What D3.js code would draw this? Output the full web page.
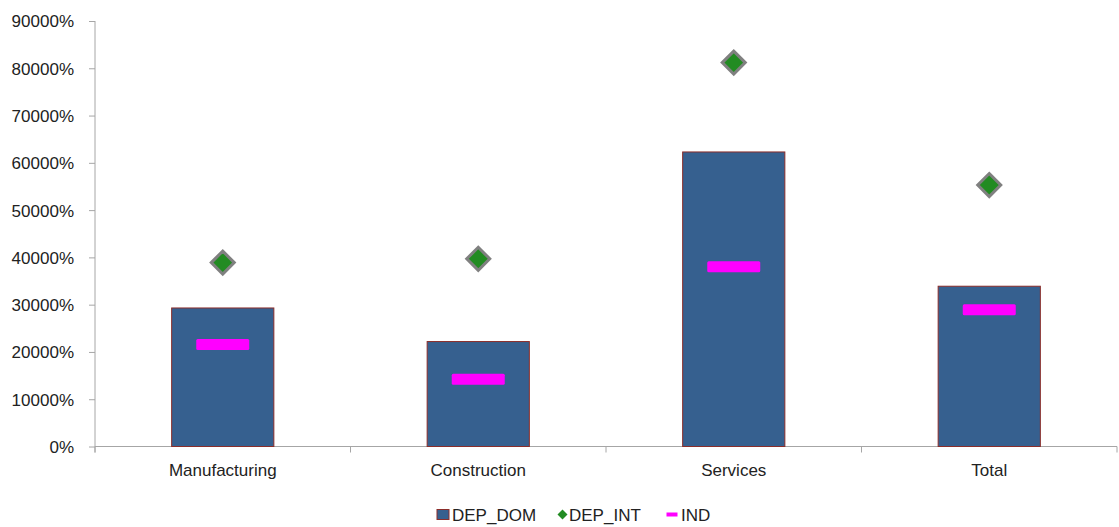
<!DOCTYPE html>
<html><head><meta charset="utf-8">
<script src="https://cdn.jsdelivr.net/npm/d3@7/dist/d3.min.js"></script>
<style>body{margin:0;background:#fff;} svg{display:block;font-family:"Liberation Sans",Arial,sans-serif;}</style>
</head><body>
<svg id="c" width="1119" height="527"></svg>
<script>
const categories = ["Manufacturing","Construction","Services","Total"];
const depDom = [293, 222, 623, 339];
const depInt = [389, 397, 812, 553];
const ind = [216, 142, 380, 289];
const yTicks = [0,100,200,300,400,500,600,700,800,900];

const svg = d3.select("#c");
const mLeft = 95, mRight = 1117, mTop = 21, mBottom = 446.5;
const x = d3.scaleBand().domain(categories).range([mLeft, mRight]).paddingInner(0).paddingOuter(0);
const y = d3.scaleLinear().domain([0, 900]).range([mBottom, mTop]);
const fmt = v => d3.format("d")(v*100) + "%";
const axisCol = "#a6a6a6";

// y axis
const ya = svg.append("g").attr("transform", `translate(${mLeft},0)`)
  .call(d3.axisLeft(y).tickValues(yTicks).tickFormat(fmt).tickSize(6).tickPadding(15));
ya.select(".domain").attr("stroke", axisCol).attr("d", `M0,${mTop}V${mBottom+6}`);
ya.selectAll(".tick line").attr("stroke", axisCol);
ya.selectAll(".tick text").attr("fill", "#222").style("font-size", "17px").attr("dy", "0.35em");

// x axis
const xa = svg.append("g").attr("transform", `translate(0,${mBottom})`)
  .call(d3.axisBottom(x).tickSize(0).tickPadding(17));
xa.select(".domain").attr("stroke", axisCol).attr("d", `M${mLeft},0H${mRight}`);
xa.selectAll(".tick text").attr("fill", "#222").style("font-size", "17px");
// boundary ticks
const bounds = categories.map(c => x(c)).concat([mRight]);
svg.append("g").selectAll("line").data(bounds).join("line")
  .attr("x1", d => d).attr("x2", d => d).attr("y1", mBottom).attr("y2", mBottom + 6)
  .attr("stroke", axisCol);

const bw = x.bandwidth() * 0.4;
const cx = c => x(c) + x.bandwidth()/2;

// bars
svg.append("g").selectAll("rect").data(categories).join("rect")
  .attr("x", c => cx(c) - bw/2).attr("width", bw)
  .attr("y", (c,i) => y(depDom[i])).attr("height", (c,i) => y(0) - y(depDom[i]))
  .attr("fill", "#36608f").attr("stroke", "#8b2d2a").attr("stroke-width", 1);

// IND markers
svg.append("g").selectAll("rect").data(categories).join("rect")
  .attr("x", c => cx(c) - 26.5).attr("width", 53)
  .attr("y", (c,i) => y(ind[i]) - 5.5).attr("height", 11).attr("rx", 1.5)
  .attr("fill", "#ff00ff");

// DEP_INT diamonds
const dia = (r) => `M0,${-r}L${r},0L0,${r}L${-r},0Z`;
svg.append("g").selectAll("path").data(categories).join("path")
  .attr("transform", (c,i) => `translate(${cx(c)},${y(depInt[i])})`)
  .attr("d", dia(11.5))
  .attr("fill", "#228b22").attr("stroke", "#808080").attr("stroke-width", 3);

// legend
const lg = svg.append("g").style("font-size", "17px").attr("fill", "#222");
lg.append("rect").attr("x", 437).attr("y", 509.5).attr("width", 12).attr("height", 10)
  .attr("fill", "#36608f").attr("stroke", "#8b2d2a").attr("stroke-width", 1);
lg.append("text").attr("x", 452).attr("y", 520.5).text("DEP_DOM");
lg.append("path").attr("transform", "translate(562.5,514.5)").attr("d", dia(5)).attr("fill", "#228b22");
lg.append("text").attr("x", 569).attr("y", 520.5).text("DEP_INT");
lg.append("rect").attr("x", 666.5).attr("y", 512.5).attr("width", 11).attr("height", 4).attr("fill", "#ff00ff");
lg.append("text").attr("x", 681).attr("y", 520.5).text("IND");
</script>
</body></html>
